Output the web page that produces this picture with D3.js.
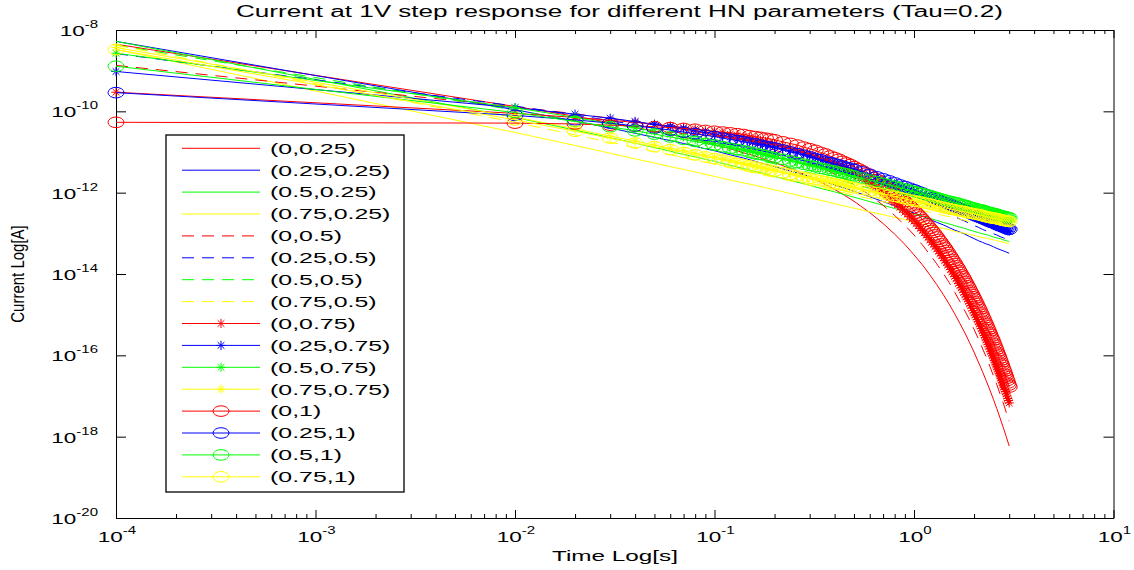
<!DOCTYPE html>
<html><head><meta charset="utf-8">
<script src="https://cdn.jsdelivr.net/npm/d3@7"></script>
<style>
html,body{margin:0;padding:0;background:#fff;}
svg{display:block;}
text{font-family:"Liberation Sans",Arial,Helvetica,sans-serif;fill:#000;}
</style></head><body>
<svg id="chart" width="1134" height="570"></svg>
<script>
// ---------- DATA ----------
// time samples [s] for the line-only series
const timeCoarse = [1e-4,0.01,0.02,0.03,0.04,0.05,0.06,0.07,0.08,0.09,0.10,0.12,0.14,0.16,0.18,0.20,0.25,0.30,0.35,0.40,0.45,0.50,0.60,0.70,0.80,0.90,1.0,1.1,1.2,1.3,1.4,1.5,1.6,1.7,1.8,1.9,2.0,2.1,2.2,2.3,2.4,2.5,2.6,2.7,2.8,2.9,3.0];
// time samples [s] for the blue/green/yellow marker series
const timeFine = [1e-4,0.01,0.02,0.03,0.04,0.05,0.06,0.07,0.08,0.09,0.10,0.11,0.12,0.13,0.14,0.15,0.16,0.17,0.18,0.19,0.20,
  0.22,0.24,0.26,0.28,0.30,0.32,0.34,0.36,0.38,0.40,0.42,0.44,0.46,0.48,0.50,
  0.55,0.60,0.65,0.70,0.75,0.80,0.85,0.90,0.95,1.00,1.05,1.10,1.15,1.20,1.25,1.30,1.35,1.40,1.45,1.50,
  1.55,1.60,1.65,1.70,1.75,1.80,1.85,1.90,1.95,2.00,2.05,2.10,2.15,2.20,2.25,2.30,2.35,2.40,2.45,2.50,
  2.55,2.60,2.65,2.70,2.75,2.80,2.85,2.90,2.95,3.00];
// time samples [s] for the red marker series (steep decay)
const timeRed = [1e-4,0.01,0.02,0.03,0.04,0.05,0.06,0.07,0.08,0.09,0.10,0.11,0.12,0.13,0.14,0.15,0.16,0.17,0.18,0.19,0.20,
  0.22,0.24,0.26,0.28,0.30,0.32,0.34,0.36,0.38,0.40,0.42,0.44,0.46,0.48,0.50,
  0.525,0.55,0.575,0.6,0.625,0.65,0.675,0.7,0.725,0.75,0.775,0.8,0.825,0.85,0.875,0.9,0.925,0.95,0.975,1.0,
  1.025,1.05,1.075,1.1,1.125,1.15,1.175,1.2,1.225,1.25,1.275,1.3,1.325,1.35,1.375,1.4,1.425,1.45,1.475,1.5,
  1.525,1.55,1.575,1.6,1.625,1.65,1.675,1.7,1.725,1.75,1.775,1.8,1.825,1.85,1.875,1.9,1.925,1.95,1.975,2.0,
  2.025,2.05,2.075,2.1,2.125,2.15,2.175,2.2,2.225,2.25,2.275,2.3,2.325,2.35,2.375,2.4,2.425,2.45,2.475,2.5,
  2.525,2.55,2.575,2.6,2.625,2.65,2.675,2.7,2.725,2.75,2.775,2.8,2.825,2.85,2.875,2.9,2.925,2.95,2.975,3.0];

const labels = ["(0,0.25)","(0.25,0.25)","(0.5,0.25)","(0.75,0.25)","(0,0.5)","(0.25,0.5)","(0.5,0.5)","(0.75,0.5)","(0,0.75)","(0.25,0.75)","(0.5,0.75)","(0.75,0.75)","(0,1)","(0.25,1)","(0.5,1)","(0.75,1)"];

// log10 of current [A] on timeCoarse
const lg_0_025 = [-8.35,-9.88,-10.12,-10.28,-10.39,-10.49,-10.57,-10.64,-10.70,-10.76,-10.82,-10.92,-11.02,-11.10,-11.19,-11.26,-11.44,-11.61,-11.77,-11.92,-12.07,-12.21,-12.49,-12.76,-13.02,-13.27,-13.53,-13.77,-14.02,-14.26,-14.50,-14.74,-14.98,-15.22,-15.45,-15.69,-15.92,-16.16,-16.39,-16.62,-16.85,-17.08,-17.31,-17.54,-17.77,-18.00,-18.23];
const lg_025_025 = [-8.28,-9.96,-10.24,-10.41,-10.54,-10.64,-10.72,-10.79,-10.86,-10.92,-10.97,-11.07,-11.15,-11.23,-11.30,-11.36,-11.49,-11.61,-11.72,-11.81,-11.89,-11.97,-12.10,-12.22,-12.32,-12.42,-12.50,-12.58,-12.65,-12.73,-12.79,-12.86,-12.92,-12.97,-13.02,-13.08,-13.13,-13.18,-13.22,-13.26,-13.29,-13.33,-13.37,-13.40,-13.43,-13.46,-13.49];
const lg_05_025 = [-8.28,-10.15,-10.46,-10.65,-10.78,-10.89,-10.98,-11.06,-11.12,-11.18,-11.23,-11.33,-11.41,-11.48,-11.54,-11.60,-11.72,-11.82,-11.91,-11.98,-12.05,-12.11,-12.22,-12.31,-12.39,-12.46,-12.52,-12.58,-12.63,-12.68,-12.73,-12.77,-12.81,-12.85,-12.88,-12.92,-12.95,-12.98,-13.01,-13.03,-13.06,-13.09,-13.11,-13.13,-13.16,-13.18,-13.20];
const lg_075_025 = [-8.48,-10.52,-10.84,-11.03,-11.17,-11.27,-11.36,-11.43,-11.49,-11.55,-11.60,-11.69,-11.76,-11.82,-11.88,-11.93,-12.04,-12.13,-12.20,-12.27,-12.33,-12.38,-12.47,-12.54,-12.61,-12.66,-12.72,-12.76,-12.81,-12.85,-12.88,-12.91,-12.95,-12.98,-13.00,-13.03,-13.05,-13.08,-13.10,-13.12,-13.14,-13.16,-13.18,-13.20,-13.22,-13.24,-13.25];
const lg_0_05 = [-8.87,-9.89,-10.06,-10.17,-10.26,-10.33,-10.39,-10.44,-10.50,-10.54,-10.59,-10.67,-10.75,-10.82,-10.89,-10.95,-11.11,-11.26,-11.40,-11.54,-11.67,-11.80,-12.06,-12.31,-12.56,-12.80,-13.04,-13.28,-13.52,-13.75,-13.98,-14.21,-14.45,-14.68,-14.91,-15.13,-15.36,-15.59,-15.82,-16.04,-16.27,-16.50,-16.72,-16.95,-17.17,-17.40,-17.62];
const lg_025_05 = [-8.58,-9.87,-10.09,-10.23,-10.33,-10.41,-10.48,-10.55,-10.60,-10.65,-10.70,-10.78,-10.86,-10.93,-10.99,-11.05,-11.18,-11.29,-11.39,-11.48,-11.56,-11.64,-11.77,-11.89,-11.99,-12.09,-12.17,-12.25,-12.33,-12.40,-12.47,-12.53,-12.59,-12.65,-12.70,-12.76,-12.81,-12.85,-12.90,-12.94,-12.97,-13.01,-13.04,-13.08,-13.11,-13.14,-13.17];
const lg_05_05 = [-8.37,-9.97,-10.24,-10.41,-10.53,-10.63,-10.71,-10.78,-10.84,-10.90,-10.95,-11.03,-11.11,-11.18,-11.24,-11.29,-11.41,-11.51,-11.59,-11.66,-11.73,-11.79,-11.89,-11.98,-12.06,-12.13,-12.19,-12.25,-12.30,-12.35,-12.40,-12.44,-12.48,-12.52,-12.55,-12.59,-12.62,-12.65,-12.68,-12.71,-12.73,-12.76,-12.78,-12.81,-12.83,-12.85,-12.87];
const lg_075_05 = [-8.37,-10.27,-10.58,-10.76,-10.89,-10.99,-11.07,-11.14,-11.20,-11.25,-11.30,-11.39,-11.46,-11.52,-11.58,-11.62,-11.73,-11.82,-11.89,-11.95,-12.01,-12.06,-12.15,-12.22,-12.29,-12.34,-12.40,-12.44,-12.48,-12.52,-12.56,-12.59,-12.62,-12.65,-12.68,-12.71,-12.73,-12.75,-12.78,-12.80,-12.82,-12.84,-12.86,-12.88,-12.89,-12.91,-12.92];

// log10 of current [A] on timeRed
const lg_0_075 = [-9.53,
  -10.05,-10.15,-10.22,-10.27,-10.32,-10.36,-10.40,-10.43,-10.47,-10.50,-10.53,-10.56,-10.59,-10.62,-10.65,-10.68,-10.71,-10.74,-10.77,-10.79,
  -10.85,-10.90,-10.95,-11.00,-11.05,-11.10,-11.15,-11.20,-11.25,-11.30,-11.35,-11.40,-11.45,-11.50,-11.54,
  -11.60,-11.66,-11.72,-11.78,-11.84,-11.90,-11.96,-12.01,-12.07,-12.13,
  -12.19,-12.25,-12.30,-12.36,-12.42,-12.48,-12.53,-12.59,-12.65,-12.70,
  -12.76,-12.82,-12.88,-12.93,-12.99,-13.05,-13.10,-13.16,-13.22,-13.27,
  -13.33,-13.38,-13.44,-13.50,-13.55,-13.61,-13.67,-13.72,-13.78,-13.83,
  -13.89,-13.95,-14.00,-14.06,-14.11,-14.17,-14.23,-14.28,-14.34,-14.39,
  -14.45,-14.51,-14.56,-14.62,-14.67,-14.73,-14.78,-14.84,-14.90,-14.95,
  -15.01,-15.06,-15.12,-15.17,-15.23,-15.28,-15.34,-15.40,-15.45,-15.51,
  -15.56,-15.62,-15.67,-15.73,-15.78,-15.84,-15.90,-15.95,-16.01,-16.06,
  -16.12,-16.17,-16.23,-16.28,-16.34,-16.39,-16.45,-16.50,-16.56,-16.61,
  -16.67,-16.73,-16.78,-16.84,-16.89,-16.95,-17.00,-17.06,-17.11,-17.17];
const lg_0_1 = [-10.27,
  -10.29,-10.31,-10.34,-10.36,-10.38,-10.40,-10.42,-10.44,-10.47,-10.49,-10.51,-10.53,-10.55,-10.57,-10.60,-10.62,-10.64,-10.66,-10.68,-10.70,
  -10.75,-10.79,-10.83,-10.88,-10.92,-10.96,-11.01,-11.05,-11.10,-11.14,-11.18,-11.23,-11.27,-11.31,-11.36,
  -11.41,-11.46,-11.52,-11.57,-11.63,-11.68,-11.74,-11.79,-11.84,-11.90,
  -11.95,-12.01,-12.06,-12.12,-12.17,-12.22,-12.28,-12.33,-12.39,-12.44,
  -12.50,-12.55,-12.60,-12.66,-12.71,-12.77,-12.82,-12.88,-12.93,-12.98,
  -13.04,-13.09,-13.15,-13.20,-13.26,-13.31,-13.36,-13.42,-13.47,-13.53,
  -13.58,-13.64,-13.69,-13.74,-13.80,-13.85,-13.91,-13.96,-14.02,-14.07,
  -14.12,-14.18,-14.23,-14.29,-14.34,-14.40,-14.45,-14.50,-14.56,-14.61,
  -14.67,-14.72,-14.78,-14.83,-14.88,-14.94,-14.99,-15.05,-15.10,-15.16,
  -15.21,-15.26,-15.32,-15.37,-15.43,-15.48,-15.54,-15.59,-15.64,-15.70,
  -15.75,-15.81,-15.86,-15.92,-15.97,-16.02,-16.08,-16.13,-16.19,-16.24,
  -16.30,-16.35,-16.40,-16.46,-16.51,-16.57,-16.62,-16.68,-16.73,-16.78];

// log10 of current [A] on timeFine
const lg_025_075 = [-9.02,
  -9.91,-10.07,-10.17,-10.25,-10.32,-10.38,-10.43,-10.48,-10.52,-10.56,-10.60,-10.63,-10.67,-10.70,-10.73,-10.76,-10.79,-10.82,-10.85,-10.87,
  -10.92,-10.97,-11.01,-11.06,-11.10,-11.14,-11.18,-11.22,-11.25,-11.28,-11.31,-11.34,-11.38,-11.40,-11.43,
  -11.50,-11.56,-11.62,-11.68,-11.73,-11.78,-11.83,-11.88,-11.92,-11.96,-12.00,-12.03,-12.07,-12.11,-12.15,-12.18,-12.22,-12.25,-12.28,-12.31,
  -12.35,-12.38,-12.41,-12.43,-12.46,-12.48,-12.51,-12.54,-12.57,-12.59,-12.62,-12.64,-12.66,-12.68,-12.70,-12.72,-12.74,-12.75,-12.77,-12.79,
  -12.81,-12.83,-12.85,-12.86,-12.88,-12.89,-12.91,-12.92,-12.94,-12.95];
const lg_05_075 = [-8.57,
  -9.91,-10.15,-10.30,-10.41,-10.49,-10.57,-10.63,-10.69,-10.74,-10.79,-10.83,-10.87,-10.91,-10.94,-10.97,-11.00,-11.03,-11.06,-11.09,-11.11,
  -11.16,-11.20,-11.24,-11.28,-11.32,-11.35,-11.38,-11.40,-11.43,-11.46,-11.49,-11.52,-11.54,-11.57,-11.59,
  -11.64,-11.69,-11.74,-11.78,-11.82,-11.85,-11.89,-11.93,-11.96,-11.98,-12.01,-12.04,-12.07,-12.09,-12.12,-12.14,-12.17,-12.19,-12.21,-12.23,
  -12.25,-12.27,-12.29,-12.30,-12.32,-12.34,-12.36,-12.37,-12.39,-12.41,-12.42,-12.43,-12.45,-12.46,-12.48,-12.49,-12.51,-12.52,-12.53,-12.54,
  -12.56,-12.57,-12.58,-12.59,-12.60,-12.61,-12.63,-12.64,-12.65,-12.66];
const lg_075_075 = [-8.43,
  -10.14,-10.43,-10.61,-10.73,-10.83,-10.91,-10.97,-11.03,-11.08,-11.13,-11.17,-11.21,-11.25,-11.28,-11.31,-11.34,-11.37,-11.40,-11.42,-11.44,
  -11.49,-11.53,-11.57,-11.60,-11.63,-11.66,-11.69,-11.71,-11.74,-11.76,-11.78,-11.81,-11.83,-11.85,-11.87,
  -11.92,-11.96,-12.00,-12.03,-12.06,-12.09,-12.12,-12.15,-12.18,-12.20,-12.22,-12.24,-12.26,-12.28,-12.30,-12.32,-12.34,-12.36,-12.38,-12.39,
  -12.41,-12.42,-12.44,-12.45,-12.47,-12.48,-12.49,-12.50,-12.52,-12.53,-12.54,-12.55,-12.56,-12.57,-12.58,-12.59,-12.60,-12.61,-12.62,-12.63,
  -12.64,-12.65,-12.66,-12.67,-12.68,-12.69,-12.70,-12.70,-12.71,-12.72];
const lg_025_1 = [-9.54,
  -10.10,-10.21,-10.29,-10.36,-10.41,-10.46,-10.51,-10.55,-10.59,-10.62,-10.66,-10.69,-10.72,-10.75,-10.78,-10.80,-10.83,-10.86,-10.88,-10.90,
  -10.95,-11.00,-11.04,-11.08,-11.12,-11.16,-11.19,-11.23,-11.26,-11.29,-11.32,-11.35,-11.38,-11.40,-11.43,
  -11.49,-11.55,-11.61,-11.66,-11.71,-11.76,-11.81,-11.85,-11.89,-11.93,-11.97,-12.01,-12.05,-12.08,-12.12,-12.15,-12.19,-12.22,-12.25,-12.28,
  -12.31,-12.34,-12.37,-12.39,-12.42,-12.44,-12.47,-12.50,-12.52,-12.55,-12.57,-12.59,-12.61,-12.63,-12.65,-12.67,-12.69,-12.71,-12.73,-12.74,
  -12.76,-12.78,-12.80,-12.81,-12.83,-12.84,-12.86,-12.87,-12.89,-12.90];
const lg_05_1 = [-8.89,
  -10.03,-10.25,-10.38,-10.48,-10.56,-10.63,-10.69,-10.74,-10.79,-10.83,-10.87,-10.91,-10.94,-10.97,-11.00,-11.03,-11.06,-11.09,-11.12,-11.14,
  -11.18,-11.22,-11.26,-11.30,-11.33,-11.36,-11.40,-11.42,-11.45,-11.47,-11.50,-11.52,-11.54,-11.57,-11.59,
  -11.64,-11.69,-11.73,-11.77,-11.81,-11.84,-11.88,-11.91,-11.94,-11.97,-12.00,-12.02,-12.05,-12.07,-12.10,-12.12,-12.15,-12.17,-12.19,-12.21,
  -12.23,-12.24,-12.26,-12.28,-12.30,-12.31,-12.33,-12.35,-12.37,-12.38,-12.40,-12.41,-12.42,-12.43,-12.45,-12.46,-12.48,-12.49,-12.50,-12.51,
  -12.52,-12.53,-12.55,-12.56,-12.57,-12.58,-12.59,-12.60,-12.61,-12.62];
const lg_075_1 = [-8.48,
  -10.21,-10.49,-10.66,-10.78,-10.87,-10.94,-11.01,-11.07,-11.12,-11.16,-11.20,-11.24,-11.28,-11.31,-11.34,-11.37,-11.40,-11.42,-11.45,-11.47,
  -11.51,-11.55,-11.59,-11.62,-11.65,-11.68,-11.71,-11.73,-11.76,-11.78,-11.80,-11.82,-11.84,-11.86,-11.88,
  -11.92,-11.96,-12.00,-12.03,-12.06,-12.09,-12.12,-12.15,-12.18,-12.20,-12.22,-12.24,-12.26,-12.28,-12.30,-12.32,-12.34,-12.36,-12.38,-12.39,
  -12.41,-12.42,-12.44,-12.45,-12.46,-12.47,-12.49,-12.50,-12.51,-12.52,-12.53,-12.54,-12.55,-12.56,-12.58,-12.59,-12.60,-12.61,-12.62,-12.63,
  -12.63,-12.64,-12.65,-12.66,-12.67,-12.68,-12.69,-12.69,-12.70,-12.71];

const seriesData = [lg_0_025,lg_025_025,lg_05_025,lg_075_025,lg_0_05,lg_025_05,lg_05_05,lg_075_05,lg_0_075,lg_025_075,lg_05_075,lg_075_075,lg_0_1,lg_025_1,lg_05_1,lg_075_1];
const seriesTimes = [timeCoarse,timeCoarse,timeCoarse,timeCoarse,timeCoarse,timeCoarse,timeCoarse,timeCoarse,timeRed,timeFine,timeFine,timeFine,timeRed,timeFine,timeFine,timeFine];

const xTickExp = [-4,-3,-2,-1,0,1];
const yTickExp = [-8,-10,-12,-14,-16,-18,-20];
const titleText = "Current at 1V step response for different HN parameters (Tau=0.2)";
const xLabelText = "Time Log[s]";
const yLabelText = "Current Log[A]";

// ---------- STYLE ----------
const palette = ["#ff0000","#0000ff","#00ff00","#ffff00"];
const kinds = ["solid","dash","star","circle"];

const svg = d3.select("#chart");
const x = d3.scaleLog().domain([1e-4, 10]).range([116, 1113.5]);
const y = d3.scaleLog().domain([1e-20, 1e-8]).range([518, 30]);

function sText(parent, px, py, sx, anchor, size, parts) {
  const t = parent.append("text")
    .attr("transform", `translate(${px},${py}) scale(${sx},1)`)
    .attr("text-anchor", anchor).attr("font-size", size);
  parts.forEach(p => {
    const ts = t.append("tspan").text(p.s);
    if (p.sup) ts.attr("font-size", p.fs).attr("dy", p.dy);
  });
  return t;
}

// ---------- AXES ----------
const majorX = xTickExp.map(e => Math.pow(10, e));
const minorX = x.ticks().filter(v => !majorX.some(m => Math.abs(m - v) / m < 1e-6));
const majorY = yTickExp.map(e => Math.pow(10, e));

function styleAxis(g) {
  g.selectAll("text").remove();
  g.selectAll("path,line").attr("stroke", "#000").attr("stroke-width", 1);
}
const axG = svg.append("g");
axG.append("g").attr("transform", "translate(0,518)")
  .call(d3.axisBottom(x).tickValues(majorX).tickSize(-8).tickSizeOuter(0).tickFormat("")).call(styleAxis);
axG.append("g").attr("transform", "translate(0,518)")
  .call(d3.axisBottom(x).tickValues(minorX).tickSize(-4).tickSizeOuter(0).tickFormat("")).call(styleAxis);
axG.append("g").attr("transform", "translate(0,30)")
  .call(d3.axisTop(x).tickValues(majorX).tickSize(-8).tickSizeOuter(0).tickFormat("")).call(styleAxis);
axG.append("g").attr("transform", "translate(0,30)")
  .call(d3.axisTop(x).tickValues(minorX).tickSize(-4).tickSizeOuter(0).tickFormat("")).call(styleAxis);
axG.append("g").attr("transform", "translate(116,0)")
  .call(d3.axisLeft(y).tickValues(majorY).tickSize(-10).tickSizeOuter(0).tickFormat("")).call(styleAxis);
axG.append("g").attr("transform", "translate(1113.5,0)")
  .call(d3.axisRight(y).tickValues(majorY).tickSize(-10).tickSizeOuter(0).tickFormat("")).call(styleAxis);

xTickExp.forEach(e => {
  sText(svg, x(Math.pow(10, e)) + 1, 542, 1.5, "middle", 15,
    [{s:"10"}, {s:String(e), sup:true, fs:10, dy:-8}]);
});
yTickExp.forEach(e => {
  sText(svg, 98, y(Math.pow(10, e)) + 6, 1.5, "end", 15,
    [{s:"10"}, {s:String(e), sup:true, fs:10, dy:-8}]);
});

svg.append("text").attr("x", 236).attr("y", 17).attr("font-size", 16)
  .attr("textLength", 767).attr("lengthAdjust", "spacingAndGlyphs").text(titleText);
sText(svg, 615, 561, 1.62, "middle", 15, [{s:xLabelText}]);
svg.append("text").attr("transform", "translate(24,274) scale(1.25,1) rotate(-90)")
  .attr("text-anchor", "middle").attr("font-size", 15).text(yLabelText);

// ---------- MARKERS ----------
function drawMarker(g, kind, color, cx, cy) {
  if (kind === "circle") {
    g.append("ellipse").attr("cx", cx).attr("cy", cy).attr("rx", 8).attr("ry", 5.3)
      .attr("fill", "none").attr("stroke", color).attr("stroke-width", 1);
  } else if (kind === "star") {
    const p = `M${cx},${cy-4.6}L${cx},${cy+4.6}M${cx-4.6},${cy}L${cx+4.6},${cy}` +
              `M${cx-3.4},${cy-3.3}L${cx+3.4},${cy+3.3}M${cx-3.4},${cy+3.3}L${cx+3.4},${cy-3.3}`;
    g.append("path").attr("d", p).attr("stroke", color).attr("stroke-width", 1).attr("fill", "none");
  }
}

// ---------- SERIES ----------
const lineGen = d3.line().x(d => x(d.t)).y(d => y(d.v));
const plotG = svg.append("g");
seriesData.forEach((vals, i) => {
  const color = palette[i % 4];
  const kind = kinds[Math.floor(i / 4)];
  const times = seriesTimes[i];
  const pts = times.map((t, j) => ({t: t, v: Math.pow(10, vals[j])}));
  const g = plotG.append("g");
  g.append("path").datum(pts).attr("d", lineGen)
    .attr("fill", "none").attr("stroke", color).attr("stroke-width", 1)
    .attr("stroke-dasharray", kind === "dash" ? "12,8" : null);
  if (kind === "star" || kind === "circle") {
    pts.forEach(p => drawMarker(g, kind, color, x(p.t), y(p.v)));
  }
});

// ---------- LEGEND ----------
const lg = svg.append("g");
lg.append("rect").attr("x", 166).attr("y", 135).attr("width", 238).attr("height", 357)
  .attr("fill", "#fff").attr("stroke", "#000").attr("stroke-width", 1.3);
labels.forEach((lab, i) => {
  const color = palette[i % 4];
  const kind = kinds[Math.floor(i / 4)];
  const ly = 148.3 + i * 21.9;
  lg.append("line").attr("x1", 182).attr("x2", 260).attr("y1", ly).attr("y2", ly)
    .attr("stroke", color).attr("stroke-width", 1)
    .attr("stroke-dasharray", kind === "dash" ? "12,8" : null);
  if (kind === "star" || kind === "circle") drawMarker(lg, kind, color, 221, ly);
  sText(lg, 270, ly + 5.3, 1.66, "start", 15, [{s: lab}]);
});
</script>
</body></html>
